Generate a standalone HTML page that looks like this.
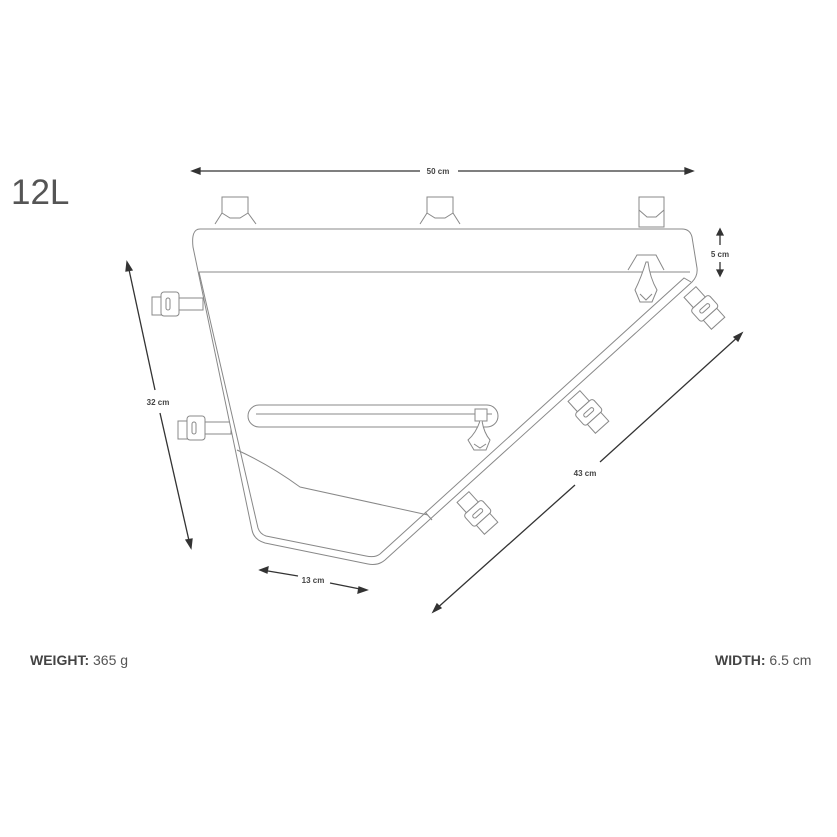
<!DOCTYPE html>
<html><head><style>
html,body{margin:0;padding:0;background:#fff;width:837px;height:837px;overflow:hidden}
svg{display:block}
</style></head><body>
<svg width="837" height="837" viewBox="0 0 837 837" xmlns="http://www.w3.org/2000/svg" font-family="Liberation Sans, sans-serif">
<text x="11" y="204" font-size="35" fill="#555">12L</text>
<text x="30" y="665" font-size="14" fill="#555"><tspan font-weight="bold" fill="#444">WEIGHT:</tspan> 365 g</text>
<text x="715" y="665" font-size="14" fill="#555"><tspan font-weight="bold" fill="#444">WIDTH:</tspan>  6.5 cm</text>

<g stroke="#333" stroke-width="1.3" fill="#333">
<line x1="195" y1="171" x2="420" y2="171"/><line x1="458" y1="171" x2="690" y2="171"/>
<polygon points="192,171 200,168 200,174"/><polygon points="693,171 685,168 685,174"/>
<line x1="720" y1="233" x2="720" y2="245"/><polygon points="720,229 717,235 723,235"/>
<line x1="720" y1="262" x2="720" y2="273"/><polygon points="720,276 717,270 723,270"/>
<line x1="128" y1="265" x2="155" y2="390"/><line x1="160" y1="413" x2="190" y2="545"/>
<polygon points="127,262 126,271 132,270"/><polygon points="191,548 186,540 192,539"/>
<line x1="435" y1="610" x2="575" y2="485"/><line x1="600" y1="462" x2="740" y2="335"/>
<polygon points="433,612 437,604 441,608"/><polygon points="742,333 734,337 738,341"/>
<line x1="262" y1="570" x2="298" y2="576"/><line x1="330" y1="583" x2="365" y2="590"/>
<polygon points="260,570 268,567 267,573"/><polygon points="367,590 359,587 358,593"/>
</g>
<g font-size="8" font-weight="bold" fill="#444" text-anchor="middle">
<text x="438" y="174">50 cm</text>
<text x="720" y="257">5 cm</text>
<text x="158" y="405">32 cm</text>
<text x="585" y="476">43 cm</text>
<text x="313" y="583">13 cm</text>
</g>

<g stroke="#888" stroke-width="1" fill="#fff">
<path d="M222,213 L222,197 L248,197 L248,213 L256,224 M222,213 L215,224"/>
<path d="M222,213 L230,218 L240,218 L248,213" fill="none"/>
<path d="M427,213 L427,197 L453,197 L453,213 L460,224 M427,213 L420,224"/>
<path d="M427,213 L435,218 L445,218 L453,213" fill="none"/>
<rect x="639" y="197" width="25" height="30"/>
<path d="M639,210 L647,217 L656,217 L664,210" fill="none"/>
<g><rect x="152" y="297" width="16" height="18"/><rect x="161" y="292" width="18" height="24" rx="3"/><rect x="179" y="298" width="24" height="12"/><rect x="166" y="298" width="4" height="12" rx="2"/></g>
<g><rect x="178" y="421" width="16" height="18"/><rect x="187" y="416" width="18" height="24" rx="3"/><rect x="205" y="422" width="26" height="12"/><rect x="192" y="422" width="4" height="12" rx="2"/></g>
<g transform="translate(690,292) rotate(48)"><rect x="0" y="-8" width="14" height="16"/><rect x="14" y="-12" width="16" height="24" rx="3"/><rect x="30" y="-9" width="12" height="18"/><rect x="20" y="-6" width="4" height="12" rx="2"/></g>
<g transform="translate(574,396) rotate(48)"><rect x="0" y="-8" width="14" height="16"/><rect x="14" y="-12" width="16" height="24" rx="3"/><rect x="30" y="-9" width="12" height="18"/><rect x="20" y="-6" width="4" height="12" rx="2"/></g>
<g transform="translate(463,497) rotate(48)"><rect x="0" y="-8" width="14" height="16"/><rect x="14" y="-12" width="16" height="24" rx="3"/><rect x="30" y="-9" width="12" height="18"/><rect x="20" y="-6" width="4" height="12" rx="2"/></g>
<path d="M200,229 L682,229 Q690,229 692,237 L697,268 Q698,276 692,282 L385,560 Q378,566 368,564 L265,543 Q254,540 252,530 L193,247 Q191,229 200,229 Z"/>
<path d="M199,272 L690,272 M691,282 L684,278 L380,554 Q375,558 366,556 L266,536 Q260,534 258,528 L199,272" fill="none"/>
<path d="M237,450 Q270,465 300,487 L428,515" fill="none"/>
<line x1="425" y1="512" x2="432" y2="520"/>
<path d="M628,270 L637,255 L656,255 L664,270"/>
<path d="M646,262 Q641,278 635,290 L640,302 L652,302 L657,290 Q650,278 648,262 Z"/>
<path d="M640,294 L646,300 L652,294" fill="none"/>
<rect x="248" y="405" width="250" height="22" rx="11"/>
<line x1="256" y1="414" x2="492" y2="414"/>
<rect x="475" y="409" width="12" height="12"/>
<path d="M480,421 Q476,433 468,440 L474,450 L486,450 L490,440 Q484,433 482,421" />
<path d="M474,444 L480,448 L486,444" fill="none"/>
</g>
</svg>
</body></html>
